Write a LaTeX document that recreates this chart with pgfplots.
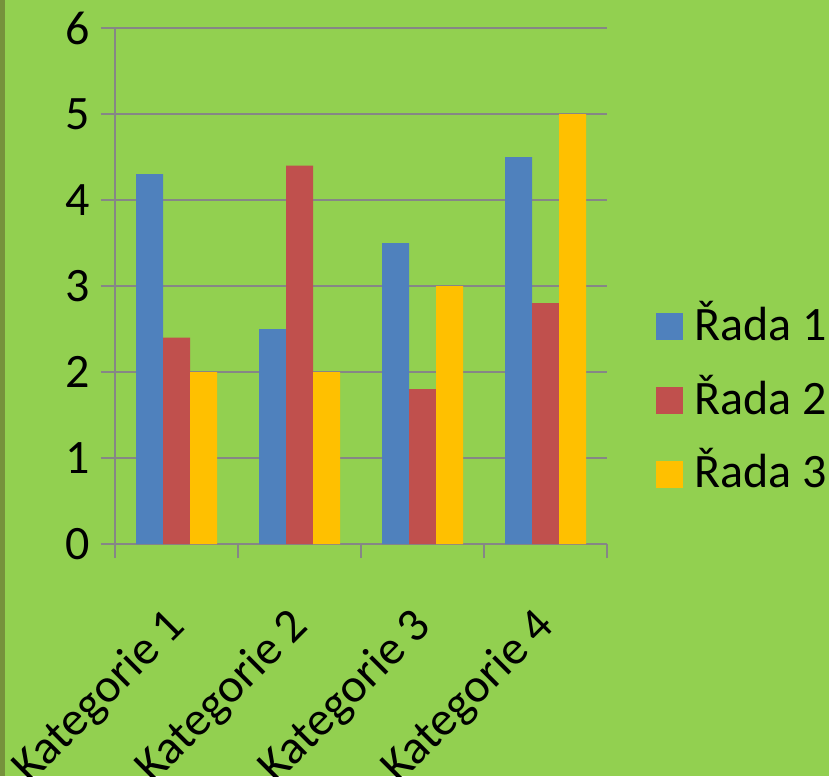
\documentclass[border=0pt]{standalone}
\usepackage{fontspec}
\setmainfont{Carlito}
\usepackage{pgfplots}
\pgfplotsset{compat=1.18}
\definecolor{bg}{HTML}{92D050}
\definecolor{strip}{HTML}{76923C}
\definecolor{gridgray}{HTML}{868686}
\definecolor{s1}{HTML}{4F81BD}
\definecolor{s2}{HTML}{C0504D}
\definecolor{s3}{HTML}{FFC000}

\begin{document}
\fontsize{48}{58}\selectfont
\begin{tikzpicture}[x=1pt,y=1pt]
  \fill[bg] (0,0) rectangle (829,776);
  \fill[strip] (0,0) rectangle (5,776);
  \begin{axis}[
    at={(115pt,232pt)}, anchor=south west,
    width=492pt, height=516pt, scale only axis,
    xmin=-0.5, xmax=3.5, ymin=0, ymax=6,
    axis x line=bottom, axis y line=left,
    axis line style={-, draw=gridgray, line width=2pt},
    ytick={0,...,6},
    ymajorgrids, grid style={draw=gridgray, line width=2pt},
    tick align=outside, major tick length=14pt,
    tick style={draw=gridgray, line width=2pt},
    yticklabel style={xshift=5pt},
    xtick={-0.5,0.5,1.5,2.5,3.5}, xticklabels={},
    extra x ticks={0,1,2,3},
    extra x tick labels={Kategorie 1,Kategorie 2,Kategorie 3,Kategorie 4},
    extra x tick style={tick style={draw=none},
      xticklabel style={xshift=13pt, yshift=-50pt, rotate=45, anchor=east}},
    /pgf/number format/assume math mode=true,
    ticklabel style={font=\fontsize{48}{58}\selectfont},
    ybar=0pt, bar width=27pt,
    legend style={at={(1.094,0.283)}, anchor=west, draw=none, fill=none,
      font=\fontsize{48}{58}\selectfont, row sep=23.5pt,
      /tikz/every odd column/.append style={column sep=9pt}},
    legend cell align=left,
    legend image code/.code={\fill[#1] (0pt,-16pt) rectangle (27pt,11pt);},
  ]
    \addplot[fill=s1, draw=none] coordinates {(0,4.3) (1,2.5) (2,3.5) (3,4.5)};
    \addplot[fill=s2, draw=none] coordinates {(0,2.4) (1,4.4) (2,1.8) (3,2.8)};
    \addplot[fill=s3, draw=none] coordinates {(0,2) (1,2) (2,3) (3,5)};
    \legend{Řada 1, Řada 2, Řada 3}
  \end{axis}
  \pgfresetboundingbox
  \path[use as bounding box] (0,0) rectangle (829,776);
\end{tikzpicture}
\end{document}
